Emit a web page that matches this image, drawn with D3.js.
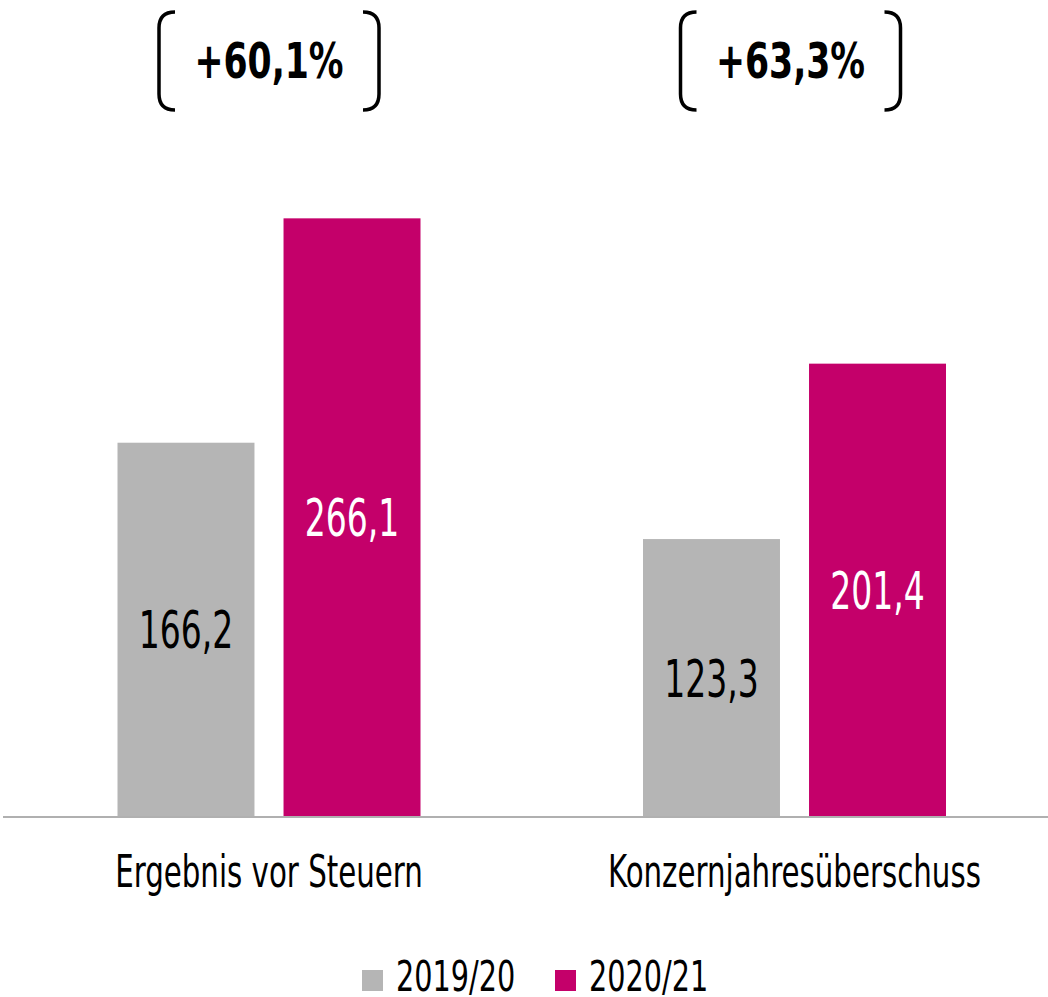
<!DOCTYPE html>
<html>
<head>
<meta charset="utf-8">
<script src="https://cdn.jsdelivr.net/npm/d3@7"></script>
<style>
  body { margin: 0; background: #fff; }
  text { font-family: "Liberation Sans Narrow", "DejaVu Sans Condensed", sans-serif; }
</style>
</head>
<body>
<script>
var categories = ['Ergebnis vor Steuern', 'Konzernjahresüberschuss'];
var series = ['2019/20', '2020/21'];
var values2019 = [166.2, 123.3];
var values2020 = [266.1, 201.4];
var growth = ['+60,1%', '+63,3%'];

var colors = ['#b5b5b5', '#c4006a'];
var labelColors = ['#000', '#fff'];

var width = 1048, height = 997;
var baseline = 816;

var svg = d3.select('body').append('svg').attr('width', width).attr('height', height);

var x0 = d3.scaleBand().domain(categories).range([6.25, 1057.25]).padding(0);
var x1 = d3.scaleBand().domain(series)
    .range([(x0.bandwidth() - 303) / 2, (x0.bandwidth() + 303) / 2])
    .paddingInner(0.175).paddingOuter(0);
var y = d3.scaleLinear().domain([0, 300]).range([baseline, baseline - 300 * 2.246]);

var data = categories.map(function(c, i) {
    return { cat: c, vals: [values2019[i], values2020[i]] };
});

var groups = svg.selectAll('.group').data(data).enter().append('g')
    .attr('class', 'group')
    .attr('transform', function(d) { return 'translate(' + x0(d.cat) + ',0)'; });

groups.selectAll('rect').data(function(d) {
        return d.vals.map(function(v, j) { return { s: series[j], v: v, j: j }; });
    })
    .enter().append('rect')
    .attr('x', function(d) { return x1(d.s); })
    .attr('y', function(d) { return y(d.v); })
    .attr('width', x1.bandwidth())
    .attr('height', function(d) { return y(0) - y(d.v); })
    .attr('fill', function(d) { return colors[d.j]; });

// Werte in den Balken
groups.selectAll('.val').data(function(d) {
        return d.vals.map(function(v, j) { return { s: series[j], v: v, j: j }; });
    })
    .enter().append('text')
    .attr('class', 'val')
    .attr('transform', function(d) {
        var cx = x1(d.s) + x1.bandwidth() / 2;
        var cy = (y(d.v) + y(0)) / 2 + 19;
        return 'translate(' + cx + ',' + cy + ') scale(0.72,1)';
    })
    .attr('text-anchor', 'middle')
    .attr('font-size', 51)
    .attr('fill', function(d) { return labelColors[d.j]; })
    .text(function(d) { return d3.format('.1f')(d.v).replace('.', ','); });

// Achse
svg.append('line')
    .attr('x1', 3).attr('x2', width)
    .attr('y1', baseline + 1).attr('y2', baseline + 1)
    .attr('stroke', '#b0b0b0').attr('stroke-width', 2);

// Kategorienbeschriftung
svg.selectAll('.cat').data(categories).enter().append('text')
    .attr('class', 'cat')
    .attr('transform', function(d) {
        return 'translate(' + (x0(d) + x0.bandwidth() / 2) + ',887) scale(0.74,1)';
    })
    .attr('text-anchor', 'middle')
    .attr('font-size', 44)
    .attr('fill', '#000')
    .text(function(d) { return d; });

// Klammern mit Wachstum (zweite Klammer sitzt etwas links von der Mitte)
var brkShift = [0, -4];
var brk = svg.selectAll('.brk').data(categories).enter().append('g')
    .attr('class', 'brk')
    .attr('transform', function(d, i) { return 'translate(' + (x0(d) + x0.bandwidth() / 2 + brkShift[i]) + ',0)'; });

brk.append('path')
    .attr('d', 'M-94,12 Q-110,12 -110,28 L-110,94 Q-110,110 -94,110')
    .attr('fill', 'none').attr('stroke', '#000').attr('stroke-width', 3.5);
brk.append('path')
    .attr('d', 'M94,12 Q110,12 110,28 L110,94 Q110,110 94,110')
    .attr('fill', 'none').attr('stroke', '#000').attr('stroke-width', 3.5);
brk.append('text')
    .attr('transform', 'translate(0,78) scale(0.77,1)')
    .attr('text-anchor', 'middle')
    .attr('font-size', 50)
    .attr('font-weight', 'bold')
    .attr('fill', '#000')
    .text(function(d, i) { return growth[i]; });

// Legende
var legendX = [362, 555];
var leg = svg.selectAll('.leg').data(series).enter().append('g')
    .attr('class', 'leg')
    .attr('transform', function(d, i) { return 'translate(' + legendX[i] + ',0)'; });
leg.append('rect')
    .attr('x', 0).attr('y', 970).attr('width', 21).attr('height', 21)
    .attr('fill', function(d, i) { return colors[i]; });
leg.append('text')
    .attr('transform', 'translate(34,991) scale(0.76,1)')
    .attr('font-size', 42)
    .attr('fill', '#000')
    .text(function(d) { return d; });
</script>
</body>
</html>
